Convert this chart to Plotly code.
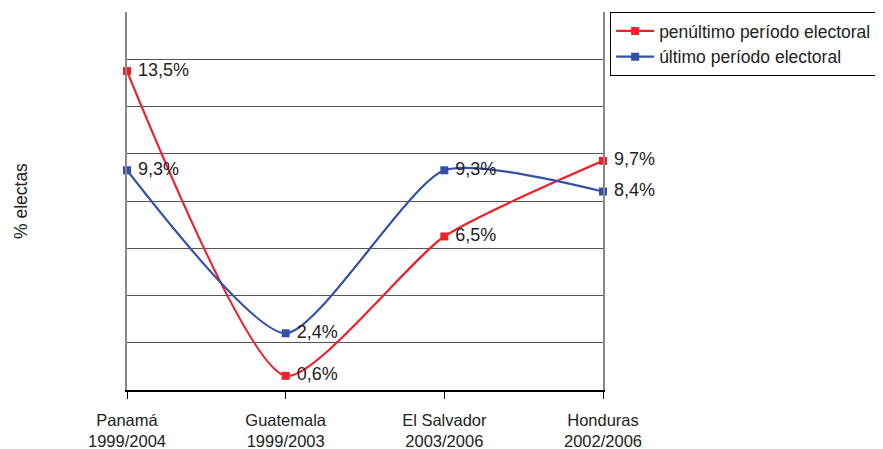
import plotly.graph_objects as go

categories = ["Panamá<br>1999/2004", "Guatemala<br>1999/2003", "El Salvador<br>2003/2006", "Honduras<br>2002/2006"]
penultimo = [13.5, 0.6, 6.5, 9.7]
ultimo = [9.3, 2.4, 9.3, 8.4]
pen_labels = ["13,5%", "0,6%", "6,5%", "9,7%"]
ult_labels = ["9,3%", "2,4%", "9,3%", "8,4%"]

xpos = list(range(len(categories)))
FONT = "Liberation Sans, Arial, sans-serif"
PAD = "\u00a0"  # small gap between marker and its label

fig = go.Figure()
fig.add_trace(go.Scatter(
    x=xpos, y=penultimo, mode="lines+markers+text", name="penúltimo período electoral",
    line=dict(color="#F0202A", width=2.2, shape="spline", smoothing=0.6),
    marker=dict(symbol="square", size=8, color="#F0202A"),
    text=[PAD + t for t in pen_labels], textposition="middle right",
    textfont=dict(size=18, color="#222222", family=FONT), cliponaxis=False,
))
fig.add_trace(go.Scatter(
    x=xpos, y=ultimo, mode="lines+markers+text", name="último período electoral",
    line=dict(color="#3450A8", width=2.2, shape="spline", smoothing=0.6),
    marker=dict(symbol="square", size=8, color="#3450A8"),
    text=[PAD + t for t in ult_labels], textposition="middle right",
    textfont=dict(size=18, color="#222222", family=FONT), cliponaxis=False,
))

fig.update_layout(
    width=875, height=441,
    margin=dict(l=119, r=280, t=4, b=59),
    paper_bgcolor="white", plot_bgcolor="white",
    font=dict(family=FONT, size=17, color="#222222"),
    legend=dict(x=1.015, y=1.0, xanchor="left", yanchor="top",
                bordercolor="black", borderwidth=1,
                font=dict(size=17.5, color="#222222", family=FONT),
                itemwidth=38, tracegroupgap=0),
    showlegend=True,
)
fig.update_xaxes(
    range=[0, 3], tickvals=xpos, ticktext=categories,
    showline=True, linecolor="black", linewidth=1.5,
    ticks="outside", ticklen=7, tickcolor="black",
    ticklabelstandoff=7, automargin=False,
    showgrid=False, zeroline=False,
    tickfont=dict(size=16.5, color="#222222", family=FONT),
)
fig.update_yaxes(
    range=[0, 16], dtick=2, showticklabels=False,
    showgrid=True, gridcolor="#555555", gridwidth=1,
    showline=True, linecolor="#888888", linewidth=1.5, mirror=True,
    zeroline=False, automargin=False,
)
fig.add_annotation(
    text="% electas", textangle=-90, xref="paper", yref="paper",
    x=0, y=0.5, xshift=-118, showarrow=False,
    font=dict(size=17.5, color="#222222", family=FONT),
)

fig.write_html("out.html")
